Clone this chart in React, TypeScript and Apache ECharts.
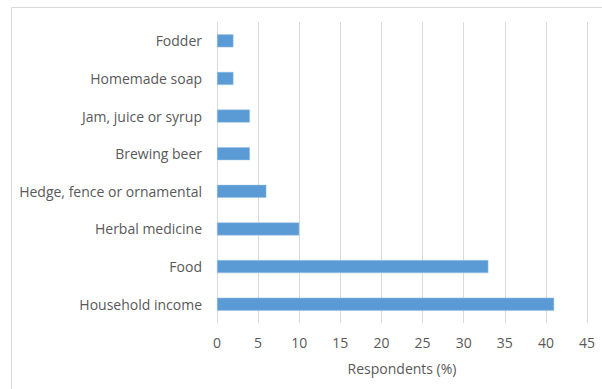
import React, { useEffect, useRef } from "react";
import * as echarts from "echarts";

const categories = [
  "Household income",
  "Food",
  "Herbal medicine",
  "Hedge, fence or ornamental",
  "Brewing beer",
  "Jam, juice or syrup",
  "Homemade soap",
  "Fodder",
];
const values = [41, 33, 10, 6, 4, 4, 2, 2];
const axisName = "Respondents (%)";

export default function App() {
  const ref = useRef<HTMLDivElement>(null);
  useEffect(() => {
    if (!ref.current) return;
    const chart = echarts.init(ref.current, undefined, { renderer: "svg" });
    const font = "Open Sans";
    chart.setOption({
      animation: false,
      backgroundColor: "#ffffff",
      graphic: [
        {
          type: "rect",
          shape: { x: 11.5, y: 7.5, width: 620, height: 420 },
          style: { fill: "none", stroke: "#d9d9d9", lineWidth: 1 },
          silent: true,
        },
      ],
      grid: { left: 217, right: 15, top: 22, bottom: 66, containLabel: false },
      xAxis: {
        type: "value",
        min: 0,
        max: 45,
        interval: 5,
        name: axisName,
        nameLocation: "middle",
        nameGap: 38,
        nameTextStyle: { color: "#595959", fontSize: 14, fontFamily: font },
        axisLine: { show: false },
        axisTick: { show: false },
        axisLabel: { color: "#595959", fontSize: 14, fontFamily: font, margin: 12 },
        splitLine: { show: true, lineStyle: { color: "#d9d9d9", width: 1 } },
      },
      yAxis: {
        type: "category",
        data: categories,
        axisLine: { show: false },
        axisTick: { show: false },
        axisLabel: { color: "#595959", fontSize: 14, fontFamily: font, margin: 15 },
        splitLine: { show: false },
      },
      series: [
        {
          type: "bar",
          data: values,
          barWidth: 13,
          itemStyle: { color: "#5b9bd5", borderColor: "#9dc3e6", borderWidth: 0.5 },
        },
      ],
    });
    return () => chart.dispose();
  }, []);
  return (
    <div
      ref={ref}
      style={{ position: "fixed", left: 0, top: 0, width: 602, height: 389 }}
    />
  );
}
